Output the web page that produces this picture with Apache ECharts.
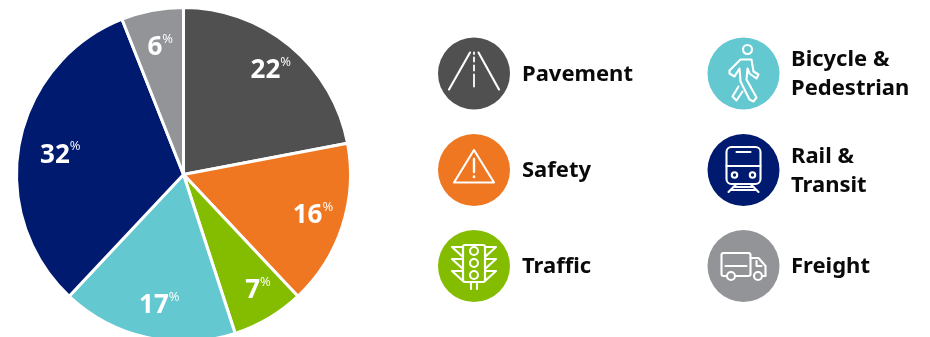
<!DOCTYPE html>
<html>
<head>
<meta charset="utf-8">
<style>html,body{margin:0;padding:0;background:#fff}#c{width:930px;height:337px}</style>
<script src="https://cdn.jsdelivr.net/npm/echarts@6/dist/echarts.min.js"></script>
</head>
<body>
<div id="c"></div>
<script>
var categories = ['Pavement', 'Safety', 'Traffic', 'Bicycle & Pedestrian', 'Rail & Transit', 'Freight'];
var shares = [22, 16, 7, 17, 32, 6];
var colors = ['#505050', '#F07722', '#84BD00', '#64C8D0', '#001A70', '#929497'];
var legendLines = ['Pavement', 'Safety', 'Traffic', 'Bicycle &\nPedestrian', 'Rail &\nTransit', 'Freight'];

var W = '#ffffff', SW = 2.1;
function ln(a, b, c, d, w) {
  return {type: 'line', shape: {x1: a, y1: b, x2: c, y2: d}, style: {stroke: W, lineWidth: w || SW, lineCap: 'round'}};
}
function pl(pts, fill, closed) {
  return {type: closed ? 'polygon' : 'polyline', shape: {points: pts},
    style: {stroke: W, lineWidth: SW, fill: fill || 'none', lineJoin: 'round', lineCap: 'round'}};
}
function ci(x, y, r, fill) {
  return {type: 'circle', shape: {cx: x, cy: y, r: r}, style: {stroke: W, lineWidth: SW, fill: fill || 'none'}};
}
function re(x, y, w, h, r) {
  return {type: 'rect', shape: {x: x, y: y, width: w, height: h, r: r}, style: {stroke: W, lineWidth: SW, fill: 'none'}};
}

var icons = [
  function () {
    return [ln(-25, 16, -4, -21), ln(25, 16, 4.5, -21), ln(0, -21, 0, -19.5, 1.8), ln(0, -16, 0, -12, 1.8), ln(0, -8, 0, -3, 1.8), ln(0, 1, 0, 13, 1.8)];
  },
  function () {
    return [pl([[0, -20], [-20, 12.5], [20, 12.5]], null, true), ln(0, -11, 0, 2, 2.4), ln(0, 6.5, 0, 7, 2.6)];
  },
  function (c) {
    var out = [re(-11, -21, 22, 37, 2)];
    [-15, -3, 9].forEach(function (y) {
      out.push(ci(0, y, 4));
      out.push(pl([[-22, y - 4], [-11, y - 4], [-11, y + 6]], null, true));
      out.push(pl([[22, y - 4], [11, y - 4], [11, y + 6]], null, true));
    });
    out.push(ln(-3, 16, -3, 23), ln(3, 16, 3, 23));
    return out;
  },
  function () {
    return [
      ci(4, -24, 4.5),
      pl([[-3, -14], [8, -14], [10, -2], [15, 1], [13, 5], [6, 0], [4, -5], [3, 6], [13, 24], [10, 28], [6, 26], [-3, 8], [-4, -5], [-9, 3], [-14, 0], [-14, -3]], null, true),
      pl([[-5, 13], [-11, 23], [-7, 27], [-1, 18]])
    ];
  },
  function () {
    return [re(-17, -23, 34, 37, 5), ln(-17, -4, 17, -4), ln(-7, -18, 7, -18),
      ci(-9, 5, 2.7), ci(9, 5, 2.7),
      ln(-15, 22, -7, 14), ln(15, 22, 7, 14), ln(-10, 17, 10, 17), ln(-12, 20, 12, 20)];
  },
  function (c) {
    return [re(-22, -13, 29, 23, 2), ln(-18, 0, 3, 0),
      pl([[7, -8], [15, -8], [22, 0], [22, 10], [18, 10]]), pl([[13, -5], [13, 0], [18, 0]]),
      ci(-12.5, 10, 4, c), ci(14.5, 10, 4, c)];
  }
];

var graphics = [];
var colX = [474, 743.5], textX = [522, 791], rowY = [73.5, 170, 266];
categories.forEach(function (name, i) {
  var col = Math.floor(i / 3), row = i % 3, c = colors[i];
  graphics.push({
    type: 'group', x: colX[col], y: rowY[row],
    children: [{type: 'circle', shape: {cx: 0, cy: 0, r: 36}, style: {fill: c}}].concat(icons[i](c))
  });
  graphics.push({
    type: 'text', x: textX[col], y: rowY[row] + 1,
    style: {text: legendLines[i], fill: '#0a0a0a', font: 'bold 22px "Noto Sans"', lineHeight: 29, verticalAlign: 'middle', align: 'left'}
  });
});

var radialPush = [52, 57, 52, 52, 43, 48];
var nudge = [[-1, 3], [-7, -3], [4, -3], [6, -4], [4, 5], [2, 5]];
var total = shares.reduce(function (a, b) { return a + b; }, 0);
var mids = [], run = 0;
shares.forEach(function (v) { mids.push((run + v / 2) / total * 2 * Math.PI); run += v; });

var chart = echarts.init(document.getElementById('c'), null, {renderer: 'canvas'});
chart.setOption({
  animation: false,
  tooltip: {show: false},
  graphic: graphics,
  series: [{
    type: 'pie',
    center: [183.5, 174.5],
    radius: [0, 167],
    startAngle: 90,
    clockwise: true,
    silent: true,
    data: categories.map(function (n, i) {
      return {name: n, value: shares[i], itemStyle: {color: colors[i]}};
    }),
    itemStyle: {borderColor: '#fff', borderWidth: 3},
    labelLine: {show: false},
    label: {
      show: true,
      position: 'inside',
      formatter: function (p) { return '{v|' + p.value + '}{p|%}'; },
      rich: {
        v: {fontFamily: 'Open Sans', fontWeight: 700, fontSize: 26, color: '#fff', lineHeight: 30},
        p: {fontFamily: 'Open Sans', fontWeight: 400, fontSize: 13, color: '#fff', verticalAlign: 'top', lineHeight: 30, padding: [0, 0, 8, 0]}
      }
    },
    labelLayout: function (p) {
      var i = p.dataIndex;
      return {dx: Math.sin(mids[i]) * radialPush[i] + nudge[i][0], dy: -Math.cos(mids[i]) * radialPush[i] + nudge[i][1]};
    }
  }]
});
</script>
</body>
</html>
